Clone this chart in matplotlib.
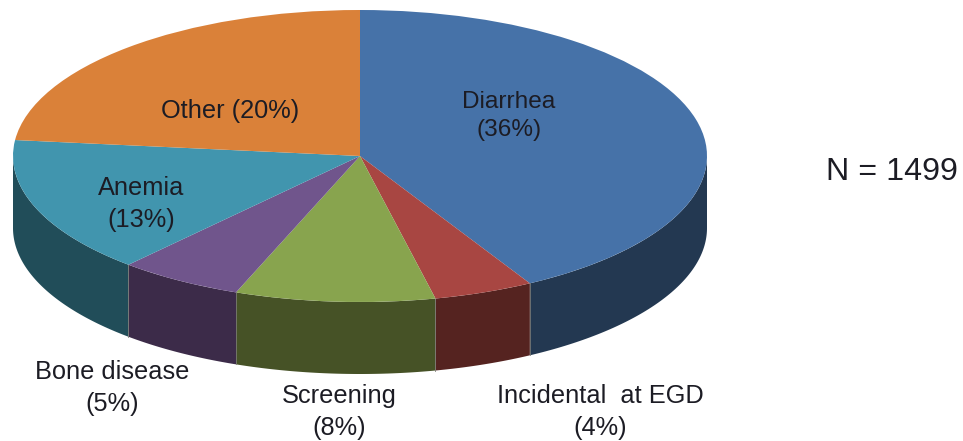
import numpy as np
import matplotlib
matplotlib.use('Agg')
import matplotlib.pyplot as plt

plt.rcParams['font.family'] = ['Liberation Sans', 'DejaVu Sans']

categories = ['Diarrhea', 'Incidental  at EGD', 'Screening', 'Bone disease', 'Anemia', 'Other']
values = [36, 4, 8, 5, 13, 20]
top_colors = ['#4672A8', '#A84642', '#88A44E', '#70558C', '#4195AE', '#DA8139']
side_colors = ['#233851', '#552320', '#465226', '#3C2B49', '#214D59', '#6E411C']

W, H = 963, 441
cx, cy = 360, 156
rx, ry = 347, 146
depth = 72 / ry

fig = plt.figure(figsize=(W / 100, H / 100), dpi=100)
ax = fig.add_axes([0, 0, 1, 1])

# side walls, only the part of the rim facing us
edges = 90 - np.cumsum([0] + values) / sum(values) * 360
for i in range(len(values)):
    a0 = max(edges[i + 1], -180)
    a1 = min(edges[i], 0)
    if a0 >= a1:
        continue
    t = np.radians(np.linspace(a0, a1, 80))
    xs = np.concatenate([np.cos(t), np.cos(t[::-1])])
    ys = np.concatenate([np.sin(t), np.sin(t[::-1]) - depth])
    ax.fill(xs, ys, color=side_colors[i], lw=0)
    if -180 < a0:
        x0 = np.cos(np.radians(a0))
        y0 = np.sin(np.radians(a0))
        ax.plot([x0, x0], [y0, y0 - depth], color='#7d7d78', lw=0.7, alpha=0.8)

ax.pie(values, colors=top_colors, startangle=90, counterclock=False,
       radius=1, wedgeprops={'linewidth': 0})

ax.set_aspect('auto')
ax.set_xlim(-cx / rx, (W - cx) / rx)
ax.set_ylim((cy - H) / ry, cy / ry)
ax.axis('off')


def lab(x, y, s, size=18.3):
    fig.text(x / W, 1 - y / H, s, ha='center', va='center', multialignment='center',
             fontsize=size, color='#1c1c24', linespacing=1.38)


lab(509, 116, 'Diarrhea\n(36%)', size=17.6)
lab(230, 111, 'Other (20%)')
lab(141, 204, 'Anemia\n(13%)')
lab(112, 388, 'Bone disease\n(5%)')
lab(339, 412, 'Screening\n(8%)')
lab(600, 412, 'Incidental  at EGD\n(4%)')
lab(892, 172, 'N = 1499', size=23.2)

plt.savefig('out.png', dpi=100)
